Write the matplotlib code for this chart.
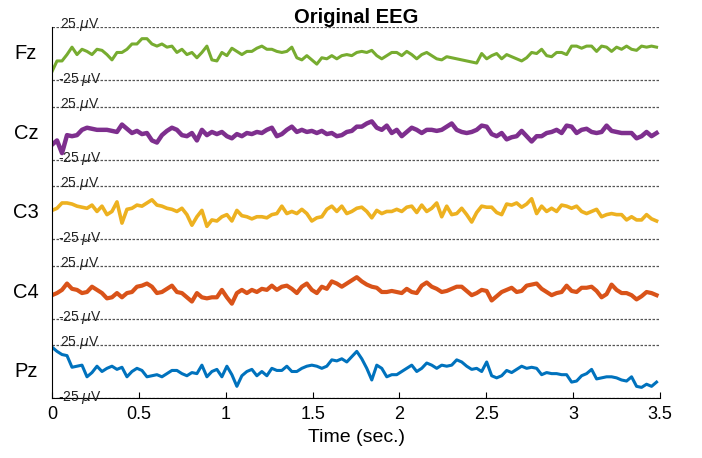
import numpy as np
import matplotlib
matplotlib.use("Agg")
import matplotlib.pyplot as plt

plt.rcParams['font.family'] = ['Liberation Sans', 'DejaVu Sans']

# EEG traces (uV), equally spaced in time
fz = [-17, -7, -7, -1, 6, -1, 4, 2, -1, 4,
      3, -1, -6, 1, 1, 4, 9, 9, 14, 14,
      9, 7, 9, 6, 7, 1, 4, -1, 1, -4,
      1, 7, -6, -7, 1, -2, 5, 2, -1, 2,
      2, 5, 7, 4, 4, 2, 1, 2, 6, -4,
      -6, -2, -6, -10, -4, -5, -2, -5, -2, -1,
      -2, 1,
      2, 1, 3, -2, -5, -2, 1, 1, -2, 2,
      -1, -5, -1, 1, -2, -5, -6, -3, -4, -5,
      -6, -7, -8, -9, 0, -5, -2, 0, -5, -1,
      -3, -5, -7, -4, 1, 0, 4, -2, -3, 1,
      1, -1, 7, 7, 5, 7, 7, 2, 7, 6,
      2, 6, 4, 7, 4, 3, 7, 6, 7, 6]

cz = [-11, -7, -19, -2, -3, -2, 3, 5, 4, 3,
      3, 3, 2, 1, 8, 4, 0, 2, -1, 0,
      -7, -9, -2, 2, 5, 3, -2, -3, 0, -7,
      3, -2, 1, -1, 1, -3, -5, -1, -3, 0,
      -1, 1, 0, 3, 5, -3, -1, 3, 6, 1,
      3, 1, 2, 0, 2, -1, 0, -3, -2, 1,
      2, 6,
      6, 9, 11, 5, 3, 7, 0, 3, -3, 1,
      5, 3, 0, 3, 3, 2, 3, 6, 9, 3,
      1, 0, 1, 3, 7, 6, -1, -3, 0, -6,
      -4, -3, 2, -3, -8, -3, -3, 0, 1, 3,
      0, 7, 6, 0, 3, 4, 1, 0, 1, 7,
      2, 1, 0, 0, 0, -5, -3, 1, -3, 0]

c3 = [2, 4, 9, 9, 8, 6, 5, 4, 7, 1,
      6, -2, 1, 10, -10, 3, 4, 7, 6, 9,
      12, 7, 6, 4, 3, 1, 4, -2, -12, -4,
      2, -13, -7, -8, -4, -2, -8, 2, -3, -4,
      -6, -4, -4, -5, -2, -1, 6, -1, 1, -1,
      3, -1, -8, -5, -4, 3, 6, 1, 6, -1,
      1, 4,
      5, 1, -5, 2, -1, 1, 1, 3, 1, 5,
      6, 0, 7, 1, 4, 9, -4, 6, -2, -1,
      4, -2, -9, 0, 6, 5, 5, 0, -2, 8,
      7, 9, 5, 8, 13, -1, 6, 1, 4, 1,
      7, 6, 4, 6, 1, -1, 1, 3, -4, -2,
      -1, -2, -2, -7, -4, -7, -7, -2, -6, -8]

c4 = [-3, -1, 2, 8, 3, 2, -1, 0, 5, 2,
      -1, -6, -5, -1, -5, -1, 0, 5, 6, 8,
      5, -1, 0, 3, 6, 0, -1, -5, -9, -1,
      -5, -6, -5, -5, 2, -5, -11, -1, 2, -1,
      2, 0, 3, 2, 6, 2, 5, 6, 3, -1,
      5, 8, 2, -1, 5, 3, 10, 8, 5, 8,
      11, 14,
      10, 7, 5, 4, 0, 0, 1, 0, -1, 3,
      0, -1, 6, 9, 5, 3, 0, 1, 3, 5,
      5, 1, -3, -1, 2, 1, -8, -4, 0, 2,
      4, 0, 1, 6, 7, 8, 3, 0, -3, -1,
      0, 6, 1, 0, 4, 4, 5, 1, -5, -2,
      7, 2, -1, -1, -3, -7, -4, 0, -1, -3]

pz = [23, 19, 16, 15, 4, 5, 6, -5, -1, 5,
      0, 3, 5, 2, 4, -5, 0, 3, 1, -5,
      -4, -3, -5, -2, 1, 1, -2, -4, -1, -2,
      6, -5, 0, 2, -5, 5, -3, -14, -4, 0,
      2, -4, 0, -4, 3, 1, 1, 5, 0, 0,
      3, 5, 6, 5, 3, 5, 11, 10, 12, 9,
      14, 19,
      12, 3, -8, 6, 3, -5, -3, -3, 0, 3,
      6, 0, 3, 8, 6, 3, 6, 5, 6, 11,
      9, 5, 2, 3, 0, 9, -4, -6, -4, 1,
      -1, 2, 5, 3, 4, 3, -3, -1, -2, -2,
      -3, -3, -10, -9, -4, -2, 2, -7, -6, -5,
      -5, -6, -8, -9, -5, -14, -15, -12, -14, -10]

channels = ['Fz', 'Cz', 'C3', 'C4', 'Pz']
colors = ['#77AC30', '#7E2F8E', '#EDB120', '#D95319', '#0072BD']
widths = [2.2, 3.2, 2.6, 3.0, 2.2]
traces = [fz, cz, c3, c4, pz]
spacing = 75

t = np.linspace(0, 3.48, len(fz))

fig = plt.figure(figsize=(7.02, 4.58), dpi=100)
ax = fig.add_axes([0.0741, 0.131, 0.8661, 0.81])

for i, (name, col, lw, y) in enumerate(zip(channels, colors, widths, traces)):
    off = (len(channels) - 1 - i) * spacing
    for lev in (25, -25):
        ax.plot([0, 3.5], [off + lev, off + lev], color='#555555', lw=0.9, ls=(0, (2, 1.2)))
    ax.plot(t, np.array(y) + off, color=col, lw=lw)
    ax.text(0.045, off + 24, r'25 $\mu$V', fontsize=10, va='baseline', ha='left', color='#222222')
    ax.text(0.035, off - 27.5, r'-25 $\mu$V', fontsize=10, va='baseline', ha='left', color='#222222')
    ax.text(-0.15, off, name, fontsize=14.5, va='center', ha='center', clip_on=False)

ax.set_xlim(0, 3.5)
ax.set_ylim(-25, 325)
ax.set_xticks([0, 0.5, 1, 1.5, 2, 2.5, 3, 3.5])
ax.set_xticklabels(['0', '0.5', '1', '1.5', '2', '2.5', '3', '3.5'])
ax.set_yticks([])
ax.tick_params(axis='x', direction='in', length=4, labelsize=13, pad=6)
ax.spines['top'].set_visible(False)
ax.spines['right'].set_visible(False)
ax.set_xlabel('Time (sec.)', fontsize=14, labelpad=4)
ax.set_title('Original EEG', fontsize=14.5, fontweight='bold', pad=2)

fig.savefig('out.png', dpi=100)
